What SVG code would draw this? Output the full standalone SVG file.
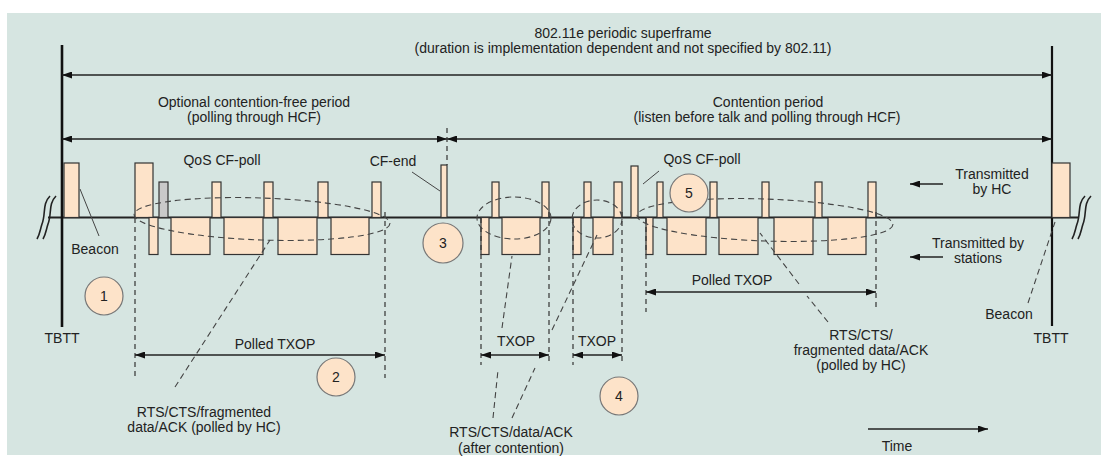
<svg xmlns="http://www.w3.org/2000/svg" width="1101" height="465" viewBox="0 0 1101 465">
<defs>
<style>
text{font-family:"Liberation Sans",Arial,sans-serif;font-size:14px;fill:#222;text-anchor:middle}
.num{font-size:14px}
.hc{fill:#fde3c9;stroke:#333;stroke-width:1.2}
.gray{fill:#c9c9c9;stroke:#333;stroke-width:1.2}
.arr{stroke:#222;stroke-width:1.3;fill:none}
.dash{stroke:#333;stroke-width:1.2;stroke-dasharray:5 4;fill:none}
.dashl{stroke:#444;stroke-width:1.1;stroke-dasharray:6 4;fill:none}
.call{stroke:#444;stroke-width:1;fill:none}
.circ{fill:#fde3c9;stroke:#777;stroke-width:1.2}
.brk{stroke:#222;stroke-width:1.6;fill:none}
</style>
<marker id="ah" viewBox="0 0 10 7" refX="10" refY="3.5" markerWidth="10" markerHeight="7" markerUnits="userSpaceOnUse" orient="auto-start-reverse">
<path d="M0,0 L10,3.5 L0,7 z" fill="#111"/>
</marker>
</defs>
<rect x="7" y="13" width="1094" height="442" fill="#d6e5e1"/>

<g id="timeline">
<line x1="48" y1="217.5" x2="1078" y2="217.5" stroke="#222" stroke-width="2"/>
<line x1="62" y1="45" x2="62" y2="327" stroke="#111" stroke-width="2.6"/>
<line x1="1052" y1="46" x2="1052" y2="326" stroke="#111" stroke-width="2.2"/>
<path class="brk" d="M50,196 C42,204 46,214 42,224 C40,230 40,234 37,239"/>
<path class="brk" d="M56,196 C48,204 52,214 48,224 C46,230 46,234 43,239"/>
<path class="brk" d="M1085,196 C1077,204 1081,214 1077,224 C1075,230 1075,234 1072,239"/>
<path class="brk" d="M1091,196 C1083,204 1087,214 1083,224 C1081,230 1081,234 1078,239"/>
</g>

<g id="hc-frames">
<rect class="hc" x="64" y="163" width="15" height="54.5"/>
<rect class="hc" x="135" y="163" width="18" height="54.5"/>
<rect class="gray" x="159" y="182" width="9" height="35.5"/>
<rect class="hc" x="212" y="182" width="9" height="35.5"/>
<rect class="hc" x="264" y="182" width="9" height="35.5"/>
<rect class="hc" x="318" y="182" width="10" height="35.5"/>
<rect class="hc" x="372" y="182" width="9" height="35.5"/>
<rect class="hc" x="441" y="165" width="6" height="52.5"/>
<rect class="hc" x="492" y="182" width="7" height="35.5"/>
<rect class="hc" x="542" y="182" width="7" height="35.5"/>
<rect class="hc" x="584" y="182" width="7" height="35.5"/>
<rect class="hc" x="614" y="182" width="8" height="35.5"/>
<rect class="hc" x="631" y="166" width="7" height="51.5"/>
<rect class="hc" x="657" y="182" width="6" height="35.5"/>
<rect class="hc" x="710" y="182" width="7" height="35.5"/>
<rect class="hc" x="762" y="182" width="7" height="35.5"/>
<rect class="hc" x="815" y="182" width="7" height="35.5"/>
<rect class="hc" x="868" y="182" width="8" height="35.5"/>
<rect class="hc" x="1052" y="163" width="18" height="54.5"/>
</g>

<g id="station-frames">
<rect class="hc" x="149" y="217.5" width="9" height="37"/>
<rect class="hc" x="171" y="217.5" width="39" height="37"/>
<rect class="hc" x="224" y="217.5" width="39" height="37"/>
<rect class="hc" x="278" y="217.5" width="39" height="37"/>
<rect class="hc" x="331" y="217.5" width="38" height="37"/>
<rect class="hc" x="481" y="217.5" width="8" height="37"/>
<rect class="hc" x="502" y="217.5" width="38" height="37"/>
<rect class="hc" x="573" y="217.5" width="8" height="37"/>
<rect class="hc" x="593" y="217.5" width="20" height="37"/>
<rect class="hc" x="646" y="217.5" width="7" height="37"/>
<rect class="hc" x="667" y="217.5" width="39" height="37"/>
<rect class="hc" x="719" y="217.5" width="39" height="37"/>
<rect class="hc" x="774" y="217.5" width="39" height="37"/>
<rect class="hc" x="828" y="217.5" width="38" height="37"/>
</g>

<g id="connectors">
<line class="arr" x1="62" y1="75" x2="1052" y2="75" marker-start="url(#ah)" marker-end="url(#ah)"/>
<line class="arr" x1="62" y1="139" x2="447" y2="139" marker-start="url(#ah)" marker-end="url(#ah)"/>
<line class="arr" x1="447" y1="139" x2="1052" y2="139" marker-start="url(#ah)" marker-end="url(#ah)"/>
<line class="dash" x1="447" y1="128" x2="447" y2="165"/>
<line class="dash" x1="135" y1="218" x2="135" y2="378"/>
<line class="dash" x1="385" y1="212" x2="385" y2="378"/>
<line class="arr" x1="135" y1="355" x2="385" y2="355" marker-start="url(#ah)" marker-end="url(#ah)"/>
<line class="dash" x1="481" y1="218" x2="481" y2="365"/>
<line class="dash" x1="549" y1="212" x2="549" y2="365"/>
<line class="arr" x1="481" y1="355" x2="549" y2="355" marker-start="url(#ah)" marker-end="url(#ah)"/>
<line class="dash" x1="573" y1="218" x2="573" y2="365"/>
<line class="dash" x1="622" y1="212" x2="622" y2="365"/>
<line class="arr" x1="573" y1="355" x2="622" y2="355" marker-start="url(#ah)" marker-end="url(#ah)"/>
<line class="dash" x1="646" y1="218" x2="646" y2="312"/>
<line class="dash" x1="876" y1="212" x2="876" y2="310"/>
<line class="arr" x1="646" y1="292" x2="876" y2="292" marker-start="url(#ah)" marker-end="url(#ah)"/>
<line class="arr" x1="943" y1="184" x2="910" y2="184" marker-end="url(#ah)"/>
<line class="arr" x1="943" y1="257" x2="910" y2="257" marker-end="url(#ah)"/>
<line class="arr" x1="868" y1="429" x2="988" y2="429" marker-end="url(#ah)"/>

<ellipse class="dashl" cx="262" cy="219" rx="128" ry="21" transform="rotate(2 262 219)"/>
<ellipse class="dashl" cx="514" cy="218" rx="37" ry="21"/>
<ellipse class="dashl" cx="597" cy="219" rx="25" ry="19"/>
<ellipse class="dashl" cx="765" cy="220" rx="128" ry="21" transform="rotate(2 765 220)"/>

<line class="dashl" x1="175" y1="387" x2="270" y2="240"/>
<line class="dashl" x1="493" y1="418" x2="498" y2="370"/>
<line class="dashl" x1="502" y1="328" x2="512" y2="256"/>
<line class="dashl" x1="512" y1="418" x2="535" y2="368"/>
<line class="dashl" x1="552" y1="330" x2="597" y2="235"/>
<line class="dashl" x1="828" y1="322" x2="807" y2="296"/>
<line class="dashl" x1="799" y1="284" x2="760" y2="233"/>
<line class="dashl" x1="1028" y1="303" x2="1055" y2="222"/>

<line class="call" x1="80" y1="189" x2="99" y2="236"/>
<line class="call" x1="412" y1="172" x2="440" y2="191"/>
<line class="call" x1="659" y1="171" x2="643" y2="184"/>
</g>

<g id="markers">
<circle class="circ" cx="104" cy="296" r="19"/><text class="num" x="104" y="301">1</text>
<circle class="circ" cx="336" cy="377" r="19"/><text class="num" x="336" y="382">2</text>
<circle class="circ" cx="443" cy="243" r="20"/><text class="num" x="443" y="248">3</text>
<circle class="circ" cx="619" cy="396" r="19"/><text class="num" x="619" y="401">4</text>
<circle class="circ" cx="689" cy="193" r="19"/><text class="num" x="689" y="198">5</text>
</g>

<g id="labels">
<text x="623" y="38">802.11e periodic superframe</text>
<text x="623" y="53">(duration is implementation dependent and not specified by 802.11)</text>
<text x="254" y="107">Optional contention-free period</text>
<text x="254" y="122">(polling through HCF)</text>
<text x="768" y="107">Contention period</text>
<text x="767" y="122">(listen before talk and polling through HCF)</text>
<text x="222" y="165">QoS CF-poll</text>
<text x="393" y="166">CF-end</text>
<text x="702" y="164">QoS CF-poll</text>
<text x="992" y="179">Transmitted</text>
<text x="992" y="194">by HC</text>
<text x="978" y="248">Transmitted by</text>
<text x="978" y="263">stations</text>
<text x="95" y="254">Beacon</text>
<text x="62" y="343">TBTT</text>
<text x="275" y="349">Polled TXOP</text>
<text x="204" y="417">RTS/CTS/fragmented</text>
<text x="204" y="432">data/ACK (polled by HC)</text>
<text x="516" y="346">TXOP</text>
<text x="597" y="346">TXOP</text>
<text x="511" y="437">RTS/CTS/data/ACK</text>
<text x="511" y="453">(after contention)</text>
<text x="732" y="285">Polled TXOP</text>
<text x="861" y="340">RTS/CTS/</text>
<text x="861" y="355">fragmented data/ACK</text>
<text x="861" y="370">(polled by HC)</text>
<text x="1009" y="319">Beacon</text>
<text x="1051" y="343">TBTT</text>
<text x="897" y="451">Time</text>
</g>
</svg>
